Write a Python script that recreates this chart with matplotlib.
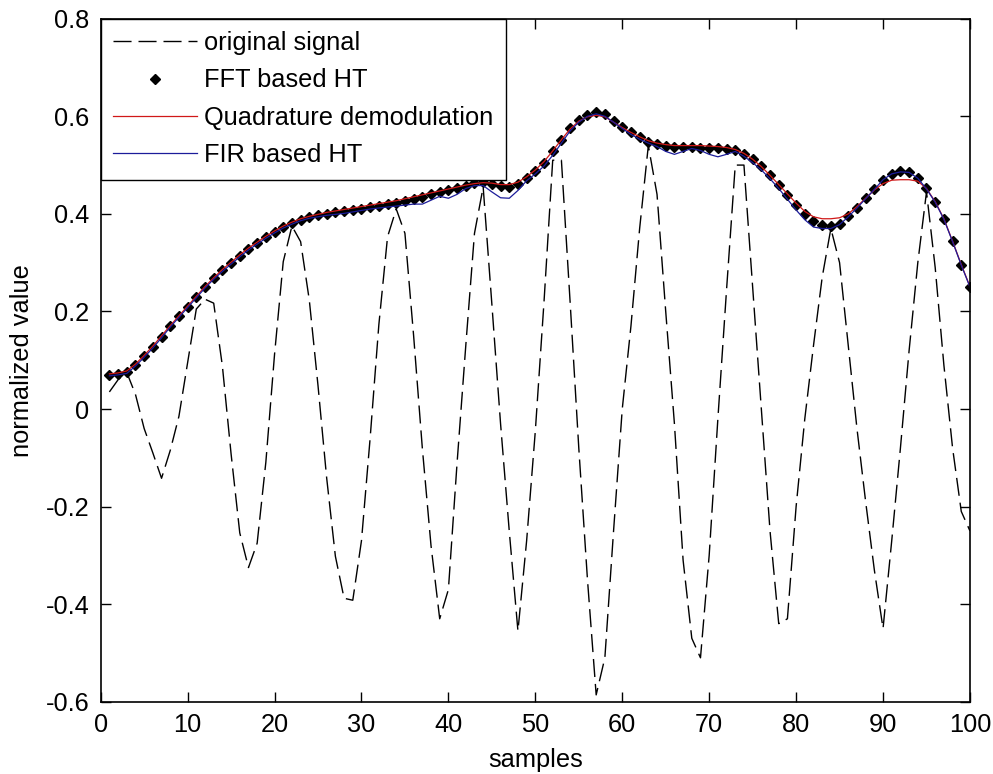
import numpy as np
import matplotlib
matplotlib.use("Agg")
import matplotlib.pyplot as plt
import matplotlib as mpl

mpl.rcParams.update({
    "font.family": ["Liberation Sans", "DejaVu Sans"],
    "font.size": 18.3,
    "axes.unicode_minus": False,
})

samples = np.arange(1, 101)

original_signal = [
    0.035, 0.060, 0.075, 0.030, -0.040, -0.090, -0.142, -0.085, -0.015, 0.095,
    0.205, 0.225, 0.217, 0.088, -0.092, -0.254, -0.325, -0.275, -0.109, 0.112,
    0.302, 0.375, 0.343, 0.223, 0.048, -0.142, -0.302, -0.388, -0.392, -0.270,
    -0.059, 0.173, 0.353, 0.410, 0.360, 0.150, -0.080, -0.280, -0.430, -0.370,
    -0.110, 0.130, 0.360, 0.455, 0.215, -0.030, -0.250, -0.455, -0.270, -0.045,
    0.220, 0.510, 0.510, 0.220, -0.080, -0.350, -0.586, -0.510, -0.250, 0.000,
    0.170, 0.370, 0.540, 0.440, 0.200, -0.030, -0.310, -0.470, -0.510, -0.300,
    -0.020, 0.245, 0.500, 0.500, 0.250, 0.000, -0.250, -0.440, -0.430, -0.200,
    -0.020, 0.130, 0.270, 0.370, 0.300, 0.130, -0.040, -0.190, -0.330, -0.450,
    -0.270, -0.080, 0.120, 0.300, 0.445, 0.290, 0.090, -0.080, -0.210, -0.250,
]

fft_ht = [
    0.070, 0.072, 0.075, 0.090, 0.108, 0.127, 0.148, 0.170, 0.190, 0.210,
    0.230, 0.250, 0.268, 0.284, 0.299, 0.314, 0.328, 0.340, 0.352, 0.363,
    0.373, 0.381, 0.388, 0.393, 0.397, 0.400, 0.403, 0.405, 0.408, 0.411,
    0.414, 0.417, 0.420, 0.423, 0.427, 0.431, 0.435, 0.440, 0.444, 0.449,
    0.453, 0.458, 0.463, 0.466, 0.462, 0.458, 0.456, 0.462, 0.474, 0.488,
    0.505, 0.528, 0.551, 0.575, 0.592, 0.603, 0.608, 0.604, 0.590, 0.578,
    0.567, 0.557, 0.548, 0.543, 0.540, 0.538, 0.538, 0.537, 0.536, 0.535,
    0.534, 0.533, 0.531, 0.523, 0.512, 0.498, 0.480, 0.460, 0.439, 0.418,
    0.399, 0.385, 0.378, 0.376, 0.380, 0.395, 0.413, 0.432, 0.450, 0.470,
    0.482, 0.487, 0.486, 0.474, 0.452, 0.425, 0.390, 0.344, 0.296, 0.251,
]

quadrature = [
    0.072, 0.074, 0.078, 0.092, 0.110, 0.129, 0.150, 0.171, 0.191, 0.211,
    0.231, 0.251, 0.269, 0.286, 0.301, 0.316, 0.330, 0.342, 0.354, 0.365,
    0.375, 0.383, 0.390, 0.395, 0.399, 0.403, 0.406, 0.409, 0.412, 0.415,
    0.418, 0.421, 0.424, 0.427, 0.431, 0.435, 0.439, 0.443, 0.447, 0.451,
    0.455, 0.459, 0.462, 0.464, 0.463, 0.460, 0.460, 0.465, 0.476, 0.490,
    0.507, 0.529, 0.552, 0.574, 0.590, 0.599, 0.602, 0.599, 0.588, 0.577,
    0.567, 0.558, 0.550, 0.545, 0.542, 0.540, 0.540, 0.540, 0.540, 0.539,
    0.538, 0.536, 0.532, 0.524, 0.512, 0.497, 0.479, 0.460, 0.441, 0.422,
    0.405, 0.394, 0.390, 0.390, 0.392, 0.400, 0.415, 0.432, 0.449, 0.462,
    0.469, 0.470, 0.470, 0.467, 0.452, 0.425, 0.390, 0.344, 0.296, 0.251,
]

fir_ht = [
    0.068, 0.070, 0.073, 0.088, 0.106, 0.125, 0.146, 0.168, 0.188, 0.208,
    0.228, 0.248, 0.266, 0.282, 0.297, 0.312, 0.326, 0.338, 0.350, 0.361,
    0.371, 0.379, 0.386, 0.391, 0.394, 0.397, 0.399, 0.401, 0.404, 0.407,
    0.410, 0.412, 0.414, 0.416, 0.418, 0.420, 0.420, 0.428, 0.436, 0.432,
    0.440, 0.452, 0.458, 0.458, 0.445, 0.433, 0.432, 0.448, 0.468, 0.482,
    0.498, 0.520, 0.545, 0.570, 0.588, 0.600, 0.605, 0.600, 0.588, 0.575,
    0.563, 0.553, 0.545, 0.538, 0.528, 0.522, 0.528, 0.534, 0.530, 0.522,
    0.517, 0.522, 0.528, 0.518, 0.505, 0.490, 0.472, 0.452, 0.430, 0.408,
    0.388, 0.373, 0.370, 0.370, 0.378, 0.394, 0.412, 0.431, 0.450, 0.470,
    0.482, 0.486, 0.485, 0.473, 0.451, 0.424, 0.389, 0.343, 0.295, 0.250,
]

fig = plt.figure(figsize=(9.93, 7.74), dpi=100)
ax = fig.add_axes([0.1014, 0.0934, 0.8754, 0.8824])

ax.plot(samples, original_signal, color="black", lw=1.0,
        linestyle=(0, (13, 5)), label="original signal")
ax.plot(samples, fft_ht, linestyle="none", marker="D", markersize=5,
        color="black", label="FFT based HT")
ax.plot(samples, quadrature, color="#d01818", lw=0.9,
        label="Quadrature demodulation")
ax.plot(samples, fir_ht, color="#1c1c9a", lw=0.9, label="FIR based HT")

ax.set_xlim(0, 100)
ax.set_ylim(-0.6, 0.8)
ax.set_xticks(np.arange(0, 101, 10))
ax.set_yticks(np.arange(-0.6, 0.81, 0.2))
ax.set_yticklabels(["-0.6", "-0.4", "-0.2", "0", "0.2", "0.4", "0.6", "0.8"])
ax.tick_params(direction="in", length=7.2, width=1.0, pad=8,
               top=True, right=True)
for sp in ax.spines.values():
    sp.set_linewidth(1.2)

ax.set_xlabel("samples", va="center")
ax.set_ylabel("normalized value", va="center")
ax.xaxis.set_label_coords(0.5, -0.0854)
ax.yaxis.set_label_coords(-0.0905, 0.5)

leg = ax.legend(loc="upper left", bbox_to_anchor=(0, 1), borderaxespad=0,
                fancybox=False, framealpha=1, edgecolor="black",
                handlelength=3.3, handletextpad=0.3, labelspacing=0.53,
                borderpad=0.48)
leg.get_frame().set_linewidth(1.0)

fig.savefig("out.png", dpi=100)
plt.close(fig)
